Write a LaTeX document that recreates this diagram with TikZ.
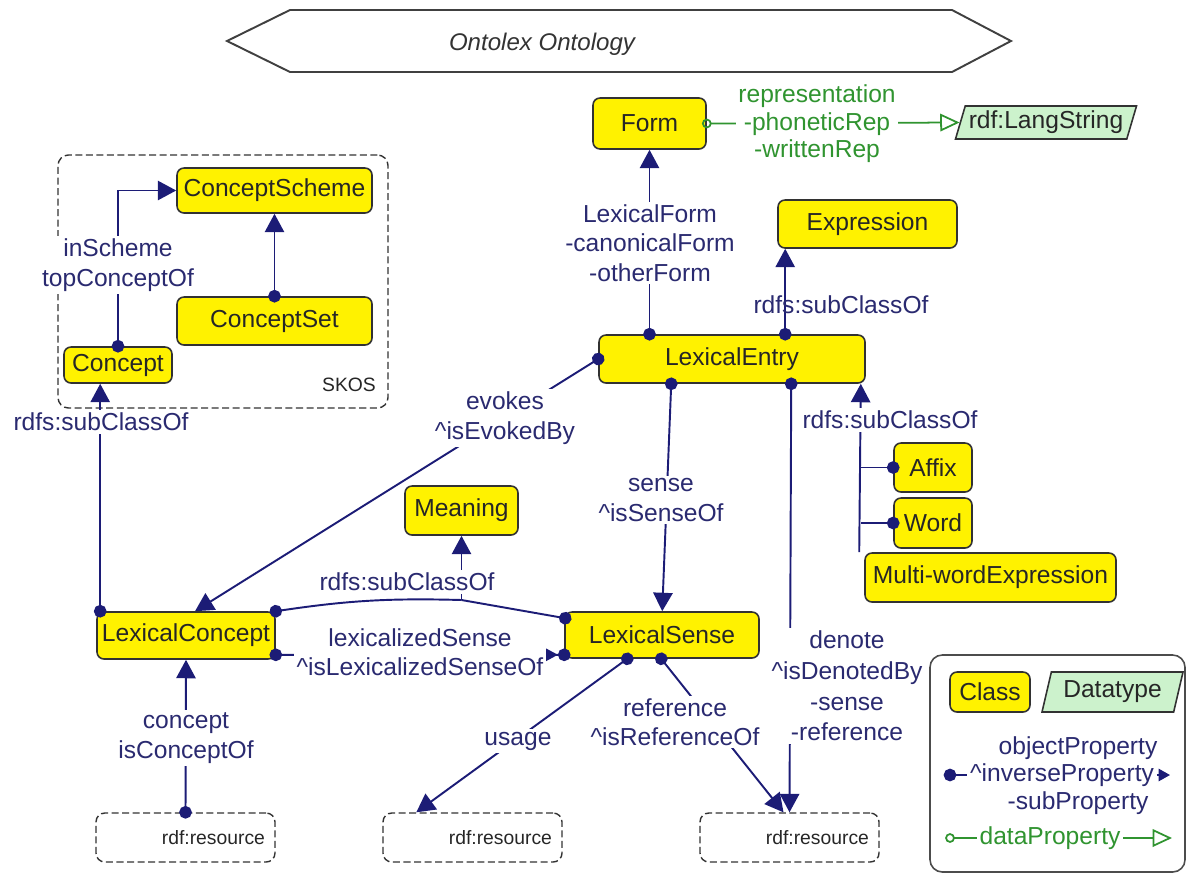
\documentclass[tikz,border=0pt]{standalone}
\usepackage{fontspec}
\setmainfont{Liberation Sans}
\usetikzlibrary{arrows.meta,calc,shapes.geometric}

\definecolor{propblue}{RGB}{28,28,118}
\definecolor{proptext}{RGB}{42,42,112}
\definecolor{datagreen}{RGB}{48,148,48}
\definecolor{dtfill}{RGB}{204,242,204}
\definecolor{boxline}{RGB}{50,50,50}

\tikzset{
  pdot/.tip={Circle[length=7.2pt]},
  ptri/.tip={Triangle[length=10.5pt,width=11pt]},
  sz/.style 2 args={minimum width=#1*0.02cm,minimum height=#2*0.02cm},
  cls/.style={draw=boxline,line width=0.9pt,fill=yellow,rounded corners=4pt,inner sep=0pt,text=black!85,font=\fontsize{14pt}{16pt}\selectfont},
  dtype/.style={trapezium,trapezium left angle=67,trapezium right angle=113,trapezium stretches body,draw=boxline,line width=0.9pt,fill=dtfill,inner sep=0pt,text=black!85,font=\fontsize{14pt}{16pt}\selectfont},
  res/.style={draw=boxline,line width=0.8pt,dash pattern=on 4pt off 2pt,rounded corners=5pt,text width=#1,align=right,inner xsep=0.2cm,minimum height=0.98cm,text=black!85,font=\fontsize{11pt}{13pt}\selectfont},
  grp/.style={draw=boxline,line width=0.8pt,dash pattern=on 4pt off 2pt,rounded corners=6pt},
  lgbox/.style={draw=black!70,line width=0.9pt,rounded corners=7pt},
  ttl/.style={draw=black!75,line width=1.1pt},
  small/.style={text=black!85,font=\fontsize{11pt}{13pt}\selectfont},
  lbl/.style={text=proptext,fill=white,inner sep=1.5pt,align=center,font=\fontsize{14pt}{16.8pt}\selectfont},
  dlbl/.style={lbl,text=datagreen,font=\fontsize{14pt}{15.6pt}\selectfont},
  link/.style={draw=propblue,line width=1.1pt},
  rel/.style={link,pdot-ptri,shorten <=-3.6pt},
  tail/.style={link,pdot-,shorten <=-3.6pt},
  head/.style={link,-ptri},
  biend/.style={link,{Circle[length=7.2pt]}-{Triangle[length=10.5pt,width=11pt] Circle[length=7.2pt]},shorten <=-3.6pt,shorten >=-3.6pt},
  dprop/.style={draw=datagreen,line width=1pt,{Circle[open,length=5.5pt]}-{Triangle[open,length=11pt,width=10pt]},shorten <=-2.75pt},
}

\begin{document}
\begin{tikzpicture}[x=0.02cm,y=-0.02cm]
\useasboundingbox (0,0) rectangle (1192,879);

\draw[ttl] (227,41) -- (290,10) -- (952,10) -- (1011,41) -- (952,72) -- (290,72) -- cycle;
\node (title) at (542,44)[text=black!80,font=\fontsize{13.7pt}{16pt}\selectfont\itshape]{Ontolex Ontology};

\node (skos) at (223,281.5)[grp,sz={330}{253}]{};
\node (skostag) at (349,385)[small]{SKOS};
\node (cscheme) at (274.5,190.5)[cls,sz={195}{45}]{ConceptScheme};
\node (cset) at (274.5,321)[cls,sz={195}{48}]{ConceptSet};
\node (concept) at (118,365)[cls,sz={108}{36}]{Concept};

\node (form) at (649.5,123.5)[cls,sz={113}{51}]{Form};
\node (langstr) at (1046,122.5)[dtype,sz={181}{33}]{rdf:LangString};
\node (expression) at (867.5,224)[cls,sz={179}{48}]{Expression};
\node (lexentry) at (732,359)[cls,sz={266}{48}]{LexicalEntry};
\node (affix) at (933,467.5)[cls,sz={78}{49}]{Affix};
\node (word) at (933,523)[cls,sz={78}{50}]{Word};
\node (mwe) at (990.5,577.5)[cls,sz={251}{49}]{Multi-wordExpression};
\node (meaning) at (461.5,510.5)[cls,sz={113}{49}]{Meaning};
\node (lexconcept) at (186,635.5)[cls,sz={178}{47}]{LexicalConcept};
\node (lexsense) at (662,635)[cls,sz={194}{46}]{LexicalSense};

\node (res1) at (185.5,837.5)[res=3.18cm]{rdf:resource};
\node (res2) at (472.5,837.5)[res=3.18cm]{rdf:resource};
\node (res3) at (789.5,837.5)[res=3.18cm]{rdf:resource};

\node (legend) at (1057.5,763.5)[lgbox,sz={255}{217}]{};
\node (lgclass) at (990,692)[cls,sz={80}{40}]{Class};
\node (lgdtype) at (1112.5,692)[dtype,sz={141}{40}]{Datatype};

\coordinate (subtop) at ($(lexentry.south east)+(-5,0)$);
\coordinate (jm) at (461.5,600);
\coordinate (lgdot) at (950,775);
\coordinate (lgarr) at (1170,775);
\coordinate (lgcirc) at (950,838);
\coordinate (lgtip) at (1172,838);

\draw[rel] (cset.north) -- (cscheme.south);
\draw[rel] (concept.north) |- (cscheme.west);
\draw[rel] ($(lexconcept.north west)+(4,0)$) coordinate (lcup) -- (concept.south -| lcup);
\draw[rel] (lexentry.north -| form.south) -- (form.south);
\draw[rel] ($(lexentry.north west)+(187,0)$) -- ($(expression.south west)+(8,0)$);
\draw[dprop] (form.east) -- (langstr.west);
\draw[rel] (lexentry.west) -- ($(lexconcept.north)+(9,0)$);
\draw[rel] ($(lexentry.south west)+(73,0)$) -- ($(lexsense.north west)+(98,0)$);
\draw[rel] ($(lexentry.south west)+(193,0)$) -- (res3.north);
\draw[head] ($(mwe.north west)+(-5,0)$) -- (subtop);
\draw[tail] (affix.west) -- (affix.west -| subtop);
\draw[tail] (word.west) -- (word.west -| subtop);
\draw[tail] (lexconcept.north east) to[bend left=5] (jm);
\draw[tail] ($(lexsense.north west)+(1,7)$) -- (jm);
\draw[head] (jm) -- (meaning.south);
\draw[biend] ($(lexconcept.south east)+(0,-5)$) -- ($(lexsense.south west)+(0,-4)$);
\draw[rel] (res1.north) -- (lexconcept.south);
\draw[rel] ($(lexsense.south west)+(63,0)$) -- ($(res2.north west)+(34,0)$);
\draw[rel] ($(lexsense.south west)+(97,0)$) -- ($(res3.north)+(-6,0)$);

\node (schemelbl) at (118,265)[lbl]{inScheme\\topConceptOf};
\node (lcsublbl) at (101,422)[lbl]{rdfs:subClassOf};
\node (formlbl) at (650,243)[lbl]{LexicalForm\\-canonicalForm\\-otherForm};
\node (exprlbl) at (841,305)[lbl,fill=none]{rdfs:subClassOf};
\node (replbl) at (817,124)[dlbl]{representation\\-phoneticRep\\-writtenRep};
\node (evokeslbl) at (505,418)[lbl]{evokes\\\textasciicircum isEvokedBy};
\node (senselbl) at (661,500)[lbl]{sense\\\textasciicircum isSenseOf};
\node (denotelbl) at (847,686)[lbl,font=\fontsize{14pt}{17.4pt}\selectfont]{denote\\\textasciicircum isDenotedBy\\-sense\\-reference};
\node (wordsublbl) at (890,420)[lbl]{rdfs:subClassOf};
\node (meaninglbl) at (407,582)[lbl]{rdfs:subClassOf};
\node (lexsenselbl) at (420,652)[lbl]{lexicalizedSense\\\textasciicircum isLexicalizedSenseOf};
\node (conceptlbl) at (186,738)[lbl]{concept\\isConceptOf};
\node (usagelbl) at (518,741)[lbl]{usage};
\node (reflbl) at (675,722)[lbl]{reference\\\textasciicircum isReferenceOf};

\node (lgobj) at (1078,748)[lbl]{objectProperty};
\node (lginv) at (1062,775)[lbl]{\textasciicircum inverseProperty};
\node (lgsub) at (1078,803)[lbl]{-subProperty};
\draw[tail] (lgdot) -- (lginv.west);
\draw[link,-{Triangle[length=6.5pt,width=7pt]}] (lginv.east) -- (lgarr);
\draw[dprop] (lgcirc) -- (lgtip);
\node (lgdata) at (1050,838)[dlbl]{dataProperty};

\end{tikzpicture}
\end{document}
